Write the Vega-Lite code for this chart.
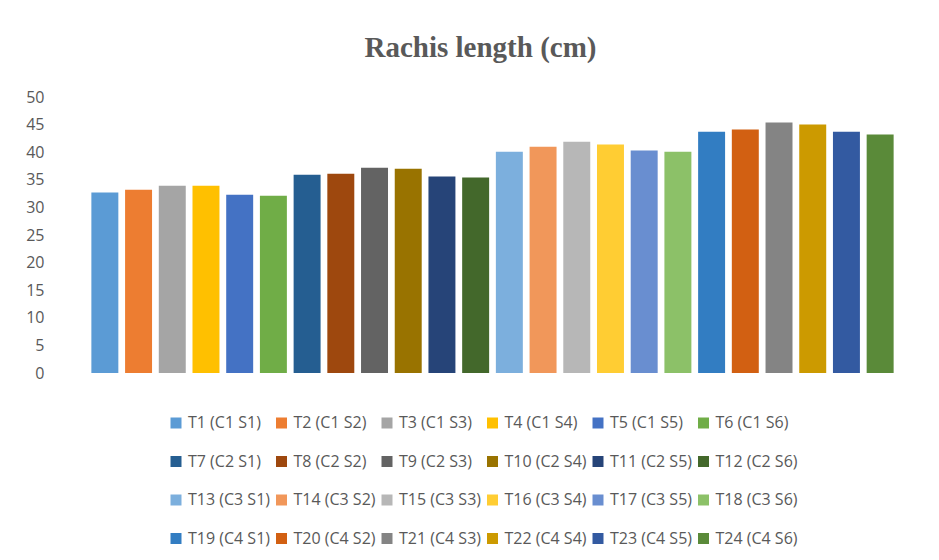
{
  "$schema": "https://vega.github.io/schema/vega-lite/v6.json",
  "width": 809,
  "height": 276,
  "autosize": {"type": "none"},
  "padding": {"left": 88, "top": 97, "right": 42, "bottom": 187},
  "background": "white",
  "config": {"view": {"stroke": null}, "font": "Open Sans"},
  "title": {
    "text": "Rachis length (cm)",
    "font": "Liberation Serif",
    "fontSize": 29,
    "fontWeight": "bold",
    "color": "#595959",
    "anchor": "middle",
    "baseline": "alphabetic",
    "offset": 3,
    "dx": -12
  },
  "data": {
    "values": [
      {"treatment": "T1 (C1 S1)", "length": 32.7},
      {"treatment": "T2 (C1 S2)", "length": 33.2},
      {"treatment": "T3 (C1 S3)", "length": 33.9},
      {"treatment": "T4 (C1 S4)", "length": 33.9},
      {"treatment": "T5 (C1 S5)", "length": 32.3},
      {"treatment": "T6 (C1 S6)", "length": 32.1},
      {"treatment": "T7 (C2 S1)", "length": 35.9},
      {"treatment": "T8 (C2 S2)", "length": 36.1},
      {"treatment": "T9 (C2 S3)", "length": 37.2},
      {"treatment": "T10 (C2 S4)", "length": 37.0},
      {"treatment": "T11 (C2 S5)", "length": 35.6},
      {"treatment": "T12 (C2 S6)", "length": 35.4},
      {"treatment": "T13 (C3 S1)", "length": 40.1},
      {"treatment": "T14 (C3 S2)", "length": 41.0},
      {"treatment": "T15 (C3 S3)", "length": 41.9},
      {"treatment": "T16 (C3 S4)", "length": 41.4},
      {"treatment": "T17 (C3 S5)", "length": 40.3},
      {"treatment": "T18 (C3 S6)", "length": 40.1},
      {"treatment": "T19 (C4 S1)", "length": 43.7},
      {"treatment": "T20 (C4 S2)", "length": 44.1},
      {"treatment": "T21 (C4 S3)", "length": 45.4},
      {"treatment": "T22 (C4 S4)", "length": 45.0},
      {"treatment": "T23 (C4 S5)", "length": 43.7},
      {"treatment": "T24 (C4 S6)", "length": 43.2}
    ]
  },
  "mark": {"type": "bar"},
  "encoding": {
    "x": {
      "field": "treatment",
      "type": "nominal",
      "sort": null,
      "axis": null,
      "scale": {"paddingInner": 0.2, "paddingOuter": 0.1}
    },
    "y": {
      "field": "length",
      "type": "quantitative",
      "scale": {"domain": [0, 50], "nice": false},
      "axis": {
        "title": null,
        "values": [0, 5, 10, 15, 20, 25, 30, 35, 40, 45, 50],
        "grid": false,
        "domain": false,
        "ticks": false,
        "labelPadding": 44,
        "labelFontSize": 16,
        "labelColor": "#595959",
        "labelFont": "Open Sans"
      }
    },
    "color": {
      "field": "treatment",
      "type": "nominal",
      "scale": {
        "domain": ["T1 (C1 S1)", "T2 (C1 S2)", "T3 (C1 S3)", "T4 (C1 S4)", "T5 (C1 S5)", "T6 (C1 S6)", "T7 (C2 S1)", "T8 (C2 S2)", "T9 (C2 S3)", "T10 (C2 S4)", "T11 (C2 S5)", "T12 (C2 S6)", "T13 (C3 S1)", "T14 (C3 S2)", "T15 (C3 S3)", "T16 (C3 S4)", "T17 (C3 S5)", "T18 (C3 S6)", "T19 (C4 S1)", "T20 (C4 S2)", "T21 (C4 S3)", "T22 (C4 S4)", "T23 (C4 S5)", "T24 (C4 S6)"],
        "range": ["#5B9BD5", "#ED7D31", "#A5A5A5", "#FFC000", "#4472C4", "#70AD47", "#255E91", "#9E480E", "#636363", "#997300", "#264478", "#43682B", "#7CAFDD", "#F1975A", "#B7B7B7", "#FFCD33", "#698ED0", "#8CC168", "#327DC2", "#D26012", "#848484", "#CC9A00", "#335AA1", "#5A8A39"]
      },
      "legend": {
        "orient": "none",
        "legendX": 80,
        "legendY": 318,
        "direction": "horizontal",
        "columns": 6,
        "gridAlign": "all",
        "title": null,
        "padding": 0,
        "symbolType": "square",
        "symbolSize": 121,
        "symbolStrokeWidth": 0,
        "symbolOpacity": 1,
        "labelFont": "Open Sans",
        "labelFontSize": 16,
        "labelColor": "#595959",
        "labelOffset": 4,
        "labelLimit": 200,
        "columnPadding": 2.5,
        "rowPadding": 22.5
      }
    }
  }
}
